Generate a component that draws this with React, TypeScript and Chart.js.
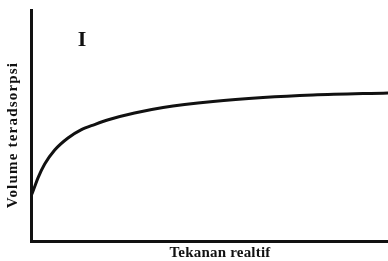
import React, { useEffect, useRef } from "react";
import { Chart, registerables } from "chart.js";

Chart.register(...registerables);

const pressure = [0, 0.0056, 0.0196, 0.0384, 0.0664, 0.1036, 0.14, 0.178, 0.224, 0.29, 0.37, 0.51, 0.65, 0.79, 1.0];
const volume = [0.195, 0.216, 0.273, 0.333, 0.394, 0.446, 0.481, 0.504, 0.528, 0.554, 0.578, 0.604, 0.621, 0.632, 0.641];
const isothermLabel = "I";
const xTitle = "Tekanan realtif";
const yTitle = "Volume teradsorpsi";

const textPlugin = {
  id: "texts",
  afterDraw(chart: any) {
    const { ctx, scales } = chart;
    ctx.save();
    ctx.fillStyle = "#111";
    ctx.font = "bold 22px 'Liberation Serif'";
    ctx.textAlign = "center";
    ctx.textBaseline = "middle";
    ctx.fillText(isothermLabel, scales.x.getPixelForValue(0.143), scales.y.getPixelForValue(0.87));
    ctx.font = "bold 15px 'Liberation Serif'";
    (ctx as any).letterSpacing = "0.2px";
    ctx.textBaseline = "alphabetic";
    ctx.fillText(xTitle, 220, 257);
    ctx.translate(17, 135);
    ctx.rotate(-Math.PI / 2);
    ctx.font = "bold 15px 'Liberation Serif'";
    (ctx as any).letterSpacing = "1.2px";
    ctx.fillText(yTitle, 0, 0);
    ctx.restore();
  },
};

export default function App() {
  const ref = useRef<HTMLCanvasElement>(null);
  useEffect(() => {
    document.body.style.margin = "0";
    const chart = new Chart(ref.current!, {
      type: "line",
      data: {
        datasets: [
          {
            data: pressure.map((p, i) => ({ x: p, y: volume[i] })),
            borderColor: "#111",
            borderWidth: 3,
            pointRadius: 0,
            cubicInterpolationMode: "monotone",
            fill: false,
          },
        ],
      },
      options: {
        responsive: false,
        animation: false,
        layout: { padding: { top: 10, left: 23, right: 0, bottom: 12 } },
        plugins: { legend: { display: false }, tooltip: { enabled: false } },
        scales: {
          x: {
            type: "linear",
            min: 0,
            max: 1,
            grid: { display: false },
            ticks: { display: false },
            border: { display: true, color: "#111", width: 3 },
          },
          y: {
            min: 0,
            max: 1,
            grid: { display: false },
            ticks: { display: false },
            border: { display: true, color: "#111", width: 3 },
          },
        },
      },
      plugins: [textPlugin],
    });
    return () => chart.destroy();
  }, []);
  return <canvas ref={ref} width={388} height={261} />;
}
